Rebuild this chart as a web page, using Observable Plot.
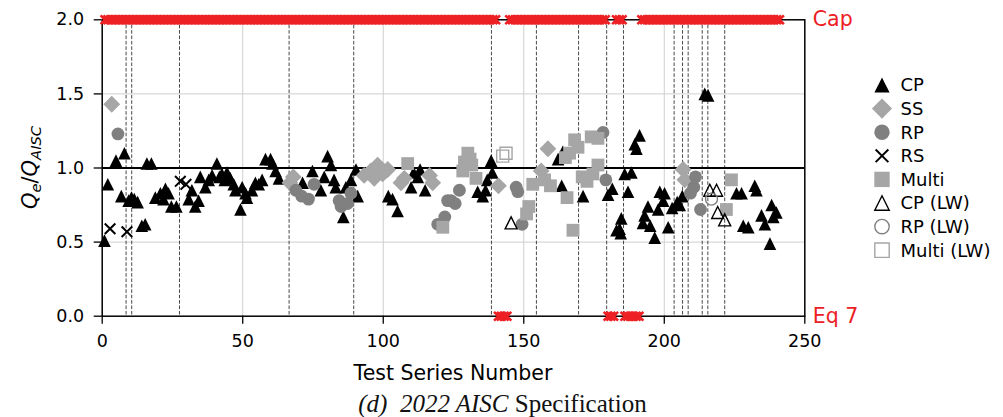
<!DOCTYPE html>
<html><head><meta charset="utf-8">
<script src="https://cdn.jsdelivr.net/npm/d3@7"></script>
<script src="https://cdn.jsdelivr.net/npm/@observablehq/plot@0.6"></script>
<style>
body{margin:0;background:#fff;}
#wrap{position:relative;width:1003px;height:417px;background:#fff;}
#caption{position:absolute;left:1px;top:390px;width:1003px;text-align:center;font-family:"Liberation Serif","Times New Roman",serif;font-size:25px;line-height:27px;color:#111;white-space:pre;}
</style></head><body><div id="wrap"></div>
<script>
// ---------------- data ----------------
const xTicks = [0, 50, 100, 150, 200, 250];
const yTicks = [0, 0.5, 1, 1.5, 2];
const gridXTicks = [50, 100, 150, 200];
const gridYTicks = [0.5, 1.5];
const unityLine = [1];
const groupBreaks = [8.5, 10.5, 27.5, 66.5, 89.5, 138.5, 154.5, 169.5, 179.5, 185.5, 203.5, 206.5, 208.5, 213.5, 215.5, 221.5];

const legendNames = ["CP", "SS", "RP", "RS", "Multi", "CP (LW)", "RP (LW)", "Multi (LW)"];

const cpPts = [[0.8,0.51],[2.0,0.89],[4.9,1.05],[7.9,1.10],[6.8,0.81],[9.4,0.78],[10.4,0.80],[11.4,0.79],[12.6,0.77],[14.1,0.61],[15.3,0.62],[15.9,1.03],[17.5,1.03],[18.9,0.80],[20.7,0.83],[21.8,0.79],[22.5,0.86],[23.6,0.83],[24.6,0.74],[26.4,0.74],[30.8,0.79],[31.9,0.85],[33.1,0.74],[34.3,0.78],[34.9,0.94],[36.7,0.87],[37.9,0.92],[39.1,0.95],[40.8,1.03],[41.7,0.94],[42.6,0.96],[43.6,0.92],[44.4,0.97],[45.6,0.93],[46.8,0.89],[47.4,0.85],[49.2,0.72],[49.8,0.87],[51.0,0.83],[51.5,0.80],[53.3,0.85],[54.5,0.90],[55.7,0.89],[56.9,0.92],[58.1,1.06],[59.9,1.06],[60.6,1.03],[61.7,0.98],[62.9,0.93],[71.3,0.90],[74.8,0.98],[77.8,0.85],[79.0,0.94],[80.2,1.08],[81.4,1.02],[82.5,0.92],[83.1,0.87],[85.8,0.67],[86.7,0.87],[88.5,0.92],[90.3,0.99],[90.9,0.81],[101.8,0.81],[103.3,0.79],[105.1,0.71],[109.9,0.87],[110.8,0.97],[112.3,0.94],[113.1,0.99],[114.9,0.85],[133.6,0.84],[135.4,0.81],[136.4,0.85],[137.0,0.92],[138.4,1.05],[138.8,0.97],[162.2,1.06],[163.9,1.11],[163.5,0.88],[171.1,0.81],[180.0,0.82],[181.5,0.86],[183.0,0.58],[185.9,0.96],[188.3,0.97],[187.1,0.84],[184.7,0.66],[184.1,0.59],[184.5,0.56],[191.2,1.22],[189.5,1.16],[190.1,1.13],[194.2,0.74],[193.0,0.68],[192.4,0.63],[195.0,0.61],[196.6,0.53],[198.4,0.84],[200.1,0.83],[199.6,0.78],[197.8,0.72],[201.4,0.60],[202.8,0.73],[204.6,0.77],[205.5,0.75],[206.4,0.81],[214.4,1.50],[215.6,1.49],[225.7,0.83],[227.5,0.83],[232.2,0.88],[232.8,0.85],[228.1,0.61],[229.9,0.60],[234.6,0.68],[235.8,0.62],[238.2,0.75],[239.9,0.70],[238.8,0.67],[237.6,0.49]];
const ssPts = [[3.4,1.43],[66.8,0.90],[68.0,0.94],[93.2,0.95],[95.6,0.98],[96.8,0.93],[98.0,1.02],[99.8,0.96],[101.6,0.99],[106.3,0.90],[107.5,0.93],[116.5,0.95],[117.6,0.90],[141.0,0.88],[156.2,0.98],[158.6,1.13],[206.7,0.99],[207.3,0.92]];
const rpPts = [[5.6,1.23],[68.9,0.85],[71.0,0.81],[73.4,0.79],[75.4,0.89],[84.3,0.78],[85.0,0.74],[87.3,0.76],[88.5,0.83],[119.4,0.62],[121.9,0.67],[122.9,0.78],[124.1,0.78],[125.6,0.76],[127.1,0.85],[147.3,0.87],[147.9,0.84],[149.4,0.62],[178.2,1.24],[179.2,0.92],[209.3,0.83],[210.5,0.87],[211.1,0.94],[212.9,0.72]];
const rsPts = [[2.8,0.59],[8.8,0.57],[27.8,0.91],[29.8,0.89]];
const multiPts = [[108.7,1.03],[121.2,0.60],[128.3,0.98],[128.9,1.04],[130.1,1.10],[130.9,1.06],[131.5,1.02],[133.0,0.93],[151.0,0.69],[151.8,0.74],[153.2,0.89],[157.4,0.92],[159.5,0.88],[165.4,0.80],[167.5,0.58],[164.8,1.07],[166.3,1.10],[168.1,1.19],[169.3,1.14],[170.8,0.94],[172.5,0.91],[174.0,1.21],[174.6,0.96],[176.4,1.20],[176.4,1.02],[222.1,0.72],[223.9,0.92]];
const cpLwPts = [[145.5,0.63],[216.2,0.85],[218.6,0.85],[219.0,0.70],[221.5,0.65]];
const rpLwPts = [[216.8,0.79]];
const multiLwPts = [[142.5,1.08],[143.7,1.10]];

// test series governed by the cap (top) and by Eq 7 (bottom)
const capSeries = [1,2,3,4,5,6,7,8,9,10,11,12,13,14,15,16,17,18,19,20,21,22,23,24,25,26,27,28,29,30,31,32,33,34,35,36,37,38,39,40,41,42,43,44,45,46,47,48,49,50,51,52,53,54,55,56,57,58,59,60,61,62,63,64,65,66,67,68,69,70,71,72,73,74,75,76,77,78,79,80,81,82,83,84,85,86,87,88,89,90,91,92,93,94,95,96,97,98,99,100,101,102,103,104,105,106,107,108,109,110,111,112,113,114,115,116,117,118,119,120,121,122,123,124,125,126,127,128,129,130,131,132,133,134,135,136,137,138,139,140,145,146,147,148,149,150,151,152,153,154,155,156,157,158,159,160,161,162,163,164,165,166,167,168,169,170,171,172,173,174,175,176,177,178,179,183,184,185,192,193,194,195,196,197,198,199,200,201,202,203,204,205,206,207,208,209,210,211,212,213,214,215,216,217,218,219,220,221,222,223,224,225,226,227,228,229,230,231,232,233,234,235,236,237,238,239,240,241];
const eq7Series = [141,142,143,144,180,181,182,186,187,188,189,190,191];
const sideLabels = [{label: "Cap", y: 2}, {label: "Eq 7", y: 0}];

// ---------------- styles ----------------
const FONT = "'DejaVu Sans', sans-serif";
const RED = "#ed2024";
const symTri = {draw(c, s) { const r = Math.sqrt(s / Math.PI); c.moveTo(0, -r); c.lineTo(r, r); c.lineTo(-r, r); c.closePath(); }};
const symDia = {draw(c, s) { const r = Math.sqrt(s / Math.PI); c.moveTo(0, -r); c.lineTo(r, 0); c.lineTo(0, r); c.lineTo(-r, 0); c.closePath(); }};
const symSq = {draw(c, s) { const r = Math.sqrt(s / Math.PI); c.moveTo(-r, -r); c.lineTo(r, -r); c.lineTo(r, r); c.lineTo(-r, r); c.closePath(); }};
const symX = {draw(c, s) { const r = Math.sqrt(s / Math.PI); c.moveTo(-r, -r); c.lineTo(r, r); c.moveTo(r, -r); c.lineTo(-r, r); }};
const symCirc = {draw(c, s) { const r = Math.sqrt(s / Math.PI); c.moveTo(r, 0); c.arc(0, 0, r, 0, 2 * Math.PI); c.closePath(); }};

const styles = {
  "CP":         {symbol: symTri,  r: 6.3, fill: "black",   stroke: "none", strokeWidth: 0},
  "SS":         {symbol: symDia,  r: 8.4, fill: "#a6a6a6", stroke: "none", strokeWidth: 0},
  "RP":         {symbol: symCirc, r: 6.4, fill: "#808080", stroke: "none", strokeWidth: 0},
  "RS":         {symbol: symX,    r: 5.3, fill: "none",    stroke: "black", strokeWidth: 2},
  "Multi":      {symbol: symSq,   r: 6.4, fill: "#a6a6a6", stroke: "none", strokeWidth: 0},
  "CP (LW)":    {symbol: symTri,  r: 6.0, fill: "none",    stroke: "black", strokeWidth: 1.4},
  "RP (LW)":    {symbol: symCirc, r: 6.0, fill: "none",    stroke: "#808080", strokeWidth: 1.4},
  "Multi (LW)": {symbol: symSq,   r: 6.0, fill: "none",    stroke: "#a6a6a6", strokeWidth: 1.4}
};
const groups = [["CP", cpPts], ["SS", ssPts], ["RP", rpPts], ["RS", rsPts], ["Multi", multiPts], ["CP (LW)", cpLwPts], ["RP (LW)", rpLwPts], ["Multi (LW)", multiLwPts]];

const dotMarks = groups.map(([name, pts]) => Plot.dot(pts, {x: d => d[0], y: d => d[1], ...styles[name]}));

const plot = Plot.plot({
  width: 1003, height: 390,
  marginLeft: 101.7, marginRight: 198.7, marginTop: 19.3, marginBottom: 74.3,
  x: {domain: [0, 250]},
  y: {domain: [0, 2]},
  style: {fontFamily: FONT, fontSize: "17.5px", background: "white", color: "black", overflow: "visible"},
  marks: [
    Plot.gridX(gridXTicks, {stroke: "#cfcfcf", strokeOpacity: 1, strokeWidth: 1}),
    Plot.gridY(gridYTicks, {stroke: "#cfcfcf", strokeOpacity: 1, strokeWidth: 1}),
    Plot.ruleX(groupBreaks, {stroke: "#333", strokeWidth: 0.9, strokeDasharray: "3.6,1.8"}),
    Plot.ruleY(unityLine, {stroke: "black", strokeWidth: 1.8}),
    Plot.frame({stroke: "black", strokeWidth: 1.5}),
    ...dotMarks,
    Plot.dot(capSeries, {x: d => d, frameAnchor: "top", symbol: symX, r: 4.4, stroke: RED, strokeWidth: 2.6, fill: "none"}),
    Plot.dot(eq7Series, {x: d => d, frameAnchor: "bottom", symbol: symX, r: 4.4, stroke: RED, strokeWidth: 2.6, fill: "none"}),
    Plot.axisX(xTicks, {tickSize: 8, tickPadding: 10, strokeWidth: 1.3, label: null}),
    Plot.axisY(yTicks, {tickSize: 8, tickPadding: 10, strokeWidth: 1.3, label: null, tickFormat: d => d.toFixed(1)}),
    Plot.text(sideLabels, {y: "y", text: "label", frameAnchor: "right", textAnchor: "start", dx: 8, fill: RED, fontSize: 20.5})
  ]
});

document.getElementById("wrap").appendChild(plot);
const svg = d3.select(plot);
const xr = plot.scale("x").range, yr = plot.scale("y").range;
const xMid = (xr[0] + xr[1]) / 2, yMid = (yr[0] + yr[1]) / 2;

// x axis title
svg.append("text").attr("x", xMid).attr("y", 380).attr("text-anchor", "middle")
  .attr("font-family", FONT).attr("font-size", 20.5).attr("fill", "black").text("Test Series Number");

// y axis title: Q_e / Q_AISC
const yl = svg.append("text").attr("transform", `translate(37,${yMid}) rotate(-90)`)
  .attr("text-anchor", "middle").attr("font-family", FONT).attr("font-size", 21).attr("fill", "black");
yl.append("tspan").attr("font-style", "italic").text("Q");
yl.append("tspan").attr("font-style", "italic").attr("font-size", 14.7).attr("dy", 4).text("e");
yl.append("tspan").attr("dy", -4).text("/");
yl.append("tspan").attr("font-style", "italic").text("Q");
yl.append("tspan").attr("font-style", "italic").attr("font-size", 14.7).attr("dy", 4).text("AISC");

// legend
const lg = svg.append("g").attr("text-anchor", "start");
const legTop = 85, legStep = 23.6, legX = 882, legTextX = 900.5, legScale = 1.2;
legendNames.forEach((name, i) => {
  const st = styles[name];
  const cy = legTop + i * legStep;
  const rr = st.r * legScale;
  lg.append("path")
    .attr("d", d3.symbol().type(st.symbol).size(Math.PI * rr * rr)())
    .attr("transform", `translate(${legX},${cy})`)
    .attr("fill", st.fill).attr("stroke", st.stroke).attr("stroke-width", st.strokeWidth);
  lg.append("text").attr("x", legTextX).attr("y", cy).attr("dy", "0.36em")
    .attr("text-anchor", "start").attr("font-family", FONT)
    .attr("font-size", 18).attr("fill", "black").text(name);
});

// caption
const cap = document.createElement("div");
cap.id = "caption";
cap.innerHTML = '<i>(d)</i>  <i>2022 AISC</i> Specification';
document.getElementById("wrap").appendChild(cap);
</script></body></html>
